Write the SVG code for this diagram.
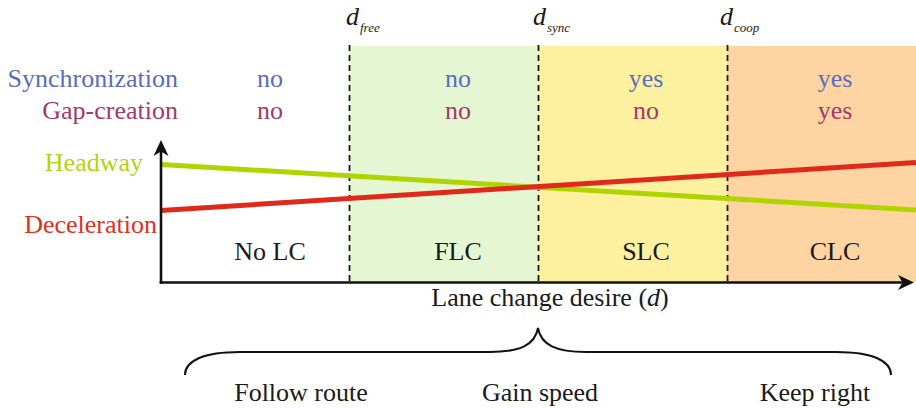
<svg xmlns="http://www.w3.org/2000/svg" width="916" height="409" viewBox="0 0 916 409">
<style>
text{font-family:"Liberation Serif","Times New Roman",serif;font-size:26px;fill:#1a1a1a}
.mid{text-anchor:middle}
.end{text-anchor:end}
.blue{fill:#5a6cbd}
.maroon{fill:#a3396a}
.dash{stroke:#1a1a1a;stroke-width:1.8;stroke-dasharray:6 4;fill:none}
.axis{stroke:#111;stroke-width:2.6;fill:none}
.dl{font-style:italic;font-size:26px}
.sub{font-style:italic;font-size:13px}
</style>
<g id="regions">
<rect id="region-flc" x="349" y="46" width="189" height="236" fill="#e4f7d2"/>
<rect id="region-slc" x="538" y="46" width="189" height="236" fill="#fdf1a0"/>
<rect id="region-clc" x="727" y="46" width="189" height="236" fill="#fed5a2"/>
</g>
<g id="thresholds">
<line class="dash" x1="349.5" y1="45" x2="349.5" y2="282"/>
<line class="dash" x1="538.5" y1="45" x2="538.5" y2="282"/>
<line class="dash" x1="727.5" y1="45" x2="727.5" y2="282"/>
<text x="346" y="25" class="dl">d<tspan class="sub" dx="1" dy="7">free</tspan></text>
<text x="533" y="25" class="dl">d<tspan class="sub" dx="1" dy="7">sync</tspan></text>
<text x="720" y="25" class="dl">d<tspan class="sub" dx="1" dy="7">coop</tspan></text>
</g>
<g id="row-labels">
<text x="178" y="87" class="end blue">Synchronization</text>
<text x="178" y="119" class="end maroon">Gap-creation</text>
<text x="143" y="171" class="end" style="fill:#b5d30c">Headway</text>
<text x="157" y="233" class="end" style="fill:#e2301e">Deceleration</text>
</g>
<g id="col-nolc">
<text x="270" y="87" class="mid blue">no</text>
<text x="270" y="119" class="mid maroon">no</text>
<text x="270" y="260" class="mid">No LC</text>
</g>
<g id="col-flc">
<text x="458" y="87" class="mid blue">no</text>
<text x="458" y="119" class="mid maroon">no</text>
<text x="458" y="260" class="mid">FLC</text>
</g>
<g id="col-slc">
<text x="646" y="87" class="mid blue">yes</text>
<text x="646" y="119" class="mid maroon">no</text>
<text x="646" y="260" class="mid">SLC</text>
</g>
<g id="col-clc">
<text x="835" y="87" class="mid blue">yes</text>
<text x="835" y="119" class="mid maroon">yes</text>
<text x="835" y="260" class="mid">CLC</text>
</g>
<g id="curves">
<line x1="161" y1="164.5" x2="916" y2="210" stroke="#b0d400" stroke-width="5"/>
<line x1="161" y1="210.5" x2="916" y2="162.5" stroke="#e0291b" stroke-width="5"/>
</g>
<g id="connectors">
<line class="axis" x1="161" y1="283.8" x2="161" y2="150"/>
<path d="M161,140 L168.5,156 L161,151.5 L153.5,156 Z" fill="#111"/>
<line class="axis" x1="159.7" y1="282.5" x2="904" y2="282.5"/>
<path d="M914,282.5 L898,275 L902.5,282.5 L898,290 Z" fill="#111"/>
<path d="M185,375 C185,361 203,352 240,352 L490,352 C520,352 535,345 538,328 C541,345 556,352 586,352 L836,352 C873,352 891,361 891,375" fill="none" stroke="#111" stroke-width="2"/>
</g>
<g id="axis-label">
<text x="550" y="306" class="mid">Lane change desire (<tspan font-style="italic">d</tspan>)</text>
</g>
<g id="motivations">
<text x="301" y="401" class="mid">Follow route</text>
<text x="540" y="401" class="mid">Gain speed</text>
<text x="815" y="401" class="mid">Keep right</text>
</g>
</svg>
